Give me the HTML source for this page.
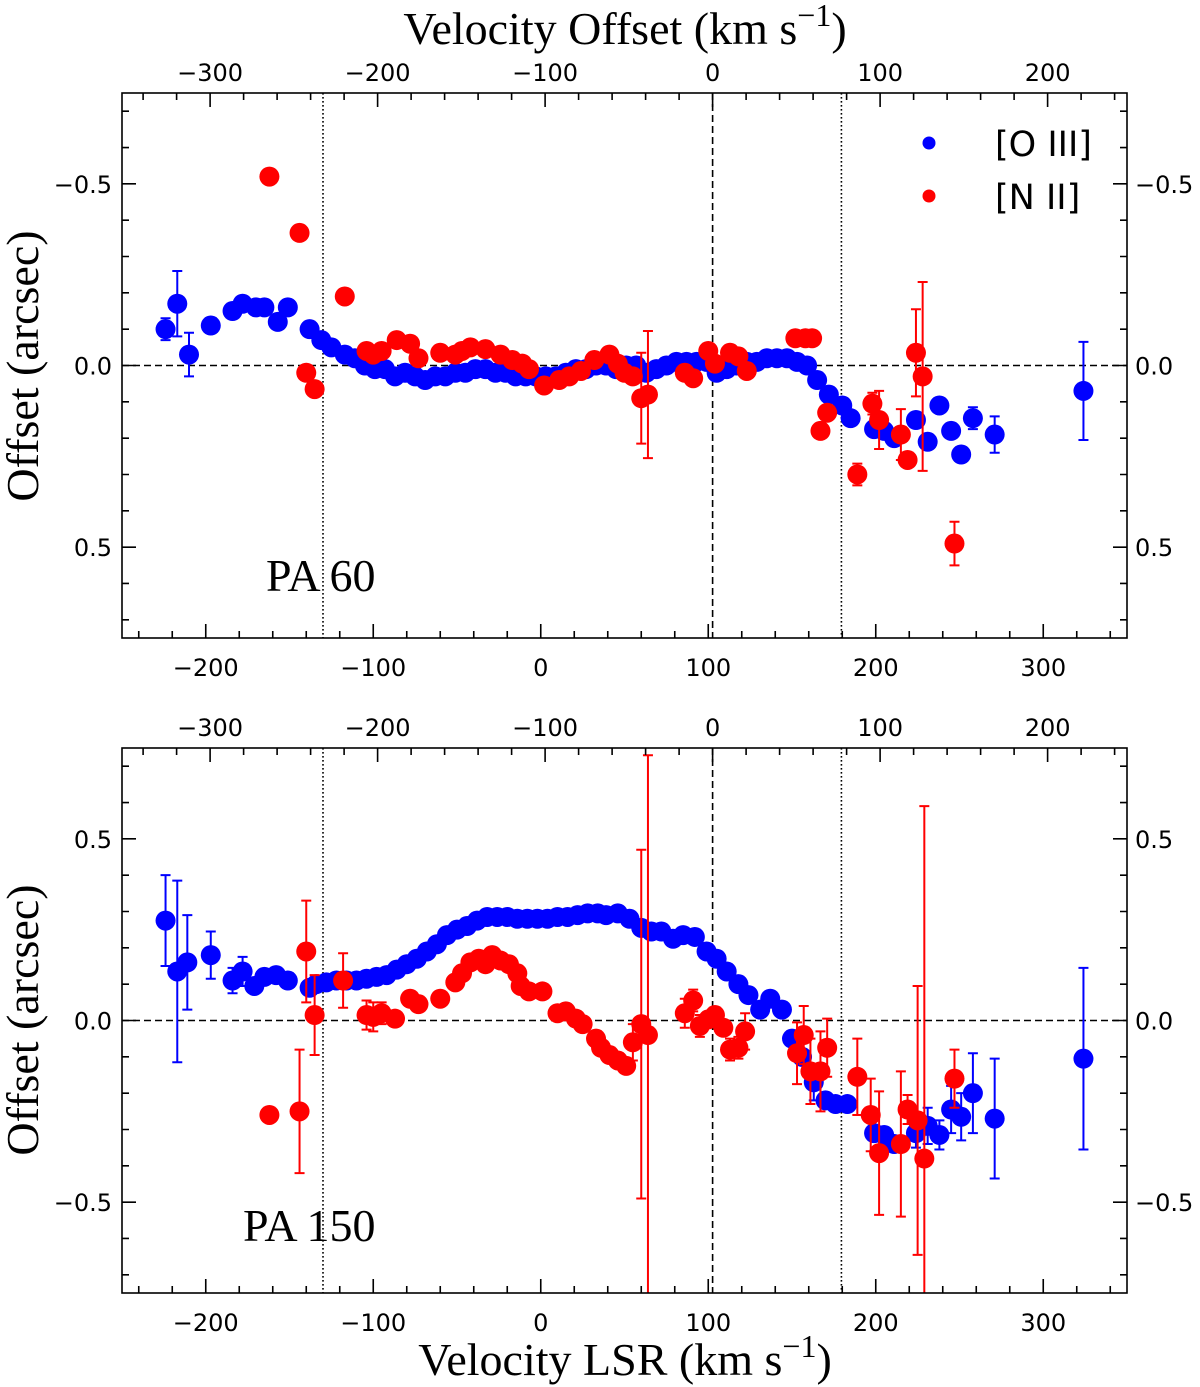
<!DOCTYPE html>
<html><head><meta charset="utf-8">
<style>
html,body{margin:0;padding:0;background:#fff;width:1200px;height:1387px;overflow:hidden;}
svg{display:block;}
.tk{font-family:"DejaVu Sans","Liberation Sans",sans-serif;font-size:24px;fill:#000;}
.ttl{font-family:"Liberation Serif","DejaVu Serif",serif;font-size:46px;fill:#000;}
.lg{font-family:"DejaVu Sans","Liberation Sans",sans-serif;font-size:35px;fill:#000;}
</style></head>
<body>
<svg id="fig" width="1200" height="1387" viewBox="0 0 1200 1387" xmlns="http://www.w3.org/2000/svg">
<g id="p1"></g>
<g id="p2"></g>
<text class="ttl" x="625" y="44" text-anchor="middle">Velocity Offset (km s<tspan dy="-18" font-size="32">−1</tspan><tspan dy="18">)</tspan></text>
<text class="ttl" x="625" y="1375" text-anchor="middle">Velocity LSR (km s<tspan dy="-18" font-size="32">−1</tspan><tspan dy="18">)</tspan></text>
<text class="ttl" transform="translate(38,366) rotate(-90)" text-anchor="middle">Offset (arcsec)</text>
<text class="ttl" transform="translate(38,1020) rotate(-90)" text-anchor="middle">Offset (arcsec)</text>
<text class="ttl" x="266" y="591">PA 60</text>
<text class="ttl" x="243" y="1241">PA 150</text>
<g>
<circle cx="929" cy="143" r="6.5" fill="#0000ff"/>
<text class="lg" x="995" y="156">[O III]</text>
<circle cx="929" cy="196" r="6.5" fill="#ff0000"/>
<text class="lg" x="995" y="209">[N II]</text>
</g>
</svg>
<script>
// ---- shared axis config ----
const xTicksLSR = [-200,-100,0,100,200,300];
const xTicksOffset = [-300,-200,-100,0,100,200];
const offsetShift = 102.6;
const dottedLines = [-130, 179.5];
const yTicksTop = [-0.5,0,0.5];
const yTickLabelsTop = ["−0.5","0.0","0.5"];
const yTicksBot = [-0.5,0,0.5];
const yTickLabelsBot = ["−0.5","0.0","0.5"];

// ---- PA 60 [O III] ----
const p1BlueX = [-224,-217,-210,-197,-184,-178,-170,-165,-157,-151,-138,-131,-125,-117,-111,-105,-99,-93,-87,-81,-75,-69,-63,-57,-51,-45,-39,-33,-27,-21,-15,-9,-3,3,9,15,21,27,33,39,45,51,57,63,69,75,81,87,93,99,105,111,117,123,129,135,141,147,153,159,165,172,180,185,199,205,211,224,231,238,245,251,258,271,324];
const p1BlueY = [-0.10,-0.17,-0.03,-0.11,-0.15,-0.17,-0.16,-0.16,-0.12,-0.16,-0.10,-0.07,-0.05,-0.03,-0.02,0.0,0.01,0.01,0.03,0.02,0.03,0.04,0.03,0.03,0.02,0.02,0.01,0.01,0.02,0.02,0.03,0.03,0.03,0.03,0.03,0.02,0.01,0.01,0.0,0.0,0.01,0.0,0.0,0.02,0.01,0.0,-0.01,-0.01,-0.01,-0.01,0.02,0.01,0.0,-0.01,-0.01,-0.02,-0.02,-0.02,-0.01,0.0,0.04,0.08,0.11,0.145,0.175,0.18,0.20,0.15,0.21,0.11,0.18,0.245,0.145,0.19,0.07];
const p1BlueE = [0.03,0.09,0.06,0,0,0,0,0,0,0,0,0,0,0,0,0,0,0,0,0,0,0,0,0,0,0,0,0,0,0,0,0,0,0,0,0,0,0,0,0,0,0,0,0,0,0,0,0,0,0,0,0,0,0,0,0,0,0,0,0,0,0,0,0,0,0,0.01,0,0,0,0,0,0.03,0.05,0.135];
// ---- PA 60 [N II] ----
const p1RedX = [-162,-144,-117,-140,-135,-104,-100,-95,-86,-78,-73,-60,-51,-47,-42,-33,-24,-17,-11,-7,2,11,17,24,32,41,46,50,55,60,64,86,91,100,104,113,118,123,152,158,162,167,171,189,198,202,215,219,224,228,247];
const p1RedY = [-0.52,-0.365,-0.19,0.02,0.065,-0.04,-0.03,-0.04,-0.07,-0.06,-0.02,-0.035,-0.03,-0.04,-0.05,-0.045,-0.03,-0.015,-0.005,0.01,0.055,0.04,0.03,0.015,-0.015,-0.03,-0.005,0.02,0.03,0.09,0.08,0.02,0.035,-0.04,-0.005,-0.035,-0.025,0.015,-0.075,-0.075,-0.075,0.18,0.13,0.30,0.105,0.15,0.19,0.26,-0.035,0.03,0.49];
const p1RedE = [0,0,0,0.02,0.02,0,0,0,0,0,0,0,0,0,0,0,0,0,0,0,0,0,0,0,0,0,0,0,0,0.125,0.175,0,0,0,0,0,0,0,0.02,0.02,0.02,0,0,0.03,0.03,0.08,0.07,0,0.12,0.26,0.06];

// ---- PA 150 [O III] ----
const p2BlueX = [-224,-217,-211,-197,-184,-178,-171,-165,-158,-151,-138,-134,-128,-122,-116,-110,-104,-98,-92,-86,-80,-74,-68,-62,-56,-50,-44,-38,-32,-26,-20,-14,-8,-2,4,10,16,22,28,34,39,46,53,60,66,72,79,85,92,99,105,111,118,124,131,137,144,150,156,163,170,176,183,199,205,211,224,231,238,245,251,258,271,324];
const p2BlueY = [0.275,0.135,0.16,0.18,0.11,0.135,0.095,0.12,0.125,0.11,0.09,0.10,0.105,0.11,0.11,0.11,0.115,0.12,0.125,0.14,0.155,0.17,0.19,0.21,0.235,0.25,0.26,0.275,0.285,0.285,0.285,0.28,0.28,0.28,0.28,0.285,0.285,0.29,0.295,0.295,0.29,0.295,0.28,0.255,0.245,0.245,0.225,0.235,0.23,0.19,0.17,0.135,0.10,0.07,0.03,0.06,0.03,-0.05,-0.10,-0.17,-0.22,-0.23,-0.23,-0.31,-0.315,-0.34,-0.31,-0.29,-0.315,-0.245,-0.265,-0.20,-0.27,-0.105];
const p2BlueE = [0.125,0.25,0.13,0.065,0.035,0.04,0,0,0,0,0,0,0,0,0,0,0,0,0,0,0,0,0,0,0,0,0,0,0,0,0,0,0,0,0,0,0,0,0,0,0,0,0,0,0,0,0,0,0,0,0,0,0,0,0,0,0,0,0.02,0.05,0,0,0,0,0,0.02,0.04,0.05,0.04,0.065,0.065,0.11,0.165,0.25];
// ---- PA 150 [N II] ----
const p2RedX = [-162,-144,-140,-135,-118,-104,-100,-95,-87,-78,-73,-60,-51,-47,-42,-37,-33,-29,-24,-19,-14,-12,-7,1,10,15,21,25,33,36,41,46,51,55,60,64,86,91,95,100,104,109,113,118,122,153,157,161,167,171,189,197,202,215,219,225,229,247];
const p2RedY = [-0.26,-0.25,0.19,0.015,0.11,0.015,0.01,0.02,0.005,0.06,0.045,0.06,0.105,0.13,0.16,0.17,0.155,0.18,0.165,0.155,0.13,0.095,0.08,0.08,0.02,0.025,0.005,-0.01,-0.05,-0.075,-0.095,-0.11,-0.125,-0.06,-0.01,-0.04,0.02,0.055,-0.015,0.003,0.015,-0.02,-0.08,-0.075,-0.03,-0.09,-0.04,-0.14,-0.14,-0.075,-0.155,-0.26,-0.365,-0.34,-0.245,-0.275,-0.38,-0.16];
const p2RedE = [0,0.17,0.14,0.11,0.075,0.04,0.04,0.03,0,0,0,0,0,0,0,0,0,0,0,0,0,0,0,0,0,0,0,0,0,0,0,0,0,0.05,0.48,0.77,0.04,0.03,0.03,0,0,0,0.03,0.03,0.05,0.085,0.08,0.09,0.11,0.08,0.105,0.10,0.17,0.2,0.04,0.37,0.97,0.08];

const NS = "http://www.w3.org/2000/svg";
const L = 122, R = 1127;
function xs(v){ return L + (v + 250) / 600 * (R - L); }
function mk(tag, attrs, parent){ const e = document.createElementNS(NS, tag); for (const k in attrs) e.setAttribute(k, attrs[k]); parent.appendChild(e); return e; }

function panel(g, top, bot, yFn, yTicks, yLabels, bx, by, be, rx, ry, re){
  const clipId = "c" + top;
  const defs = mk("defs", {}, g);
  const cp = mk("clipPath", {id: clipId}, defs);
  mk("rect", {x: L, y: top, width: R - L, height: bot - top}, cp);
  const plot = mk("g", {"clip-path": "url(#" + clipId + ")"}, g);
  
  
  const z = mk("line", {x1: L, x2: R, y1: yFn(0), y2: yFn(0), stroke: "#000", "stroke-width": 1.6, "stroke-dasharray": "7,4"}, plot);
  
  
  const vz = mk("line", {x1: xs(offsetShift), x2: xs(offsetShift), y1: top, y2: bot, stroke: "#000", "stroke-width": 1.6, "stroke-dasharray": "7,4"}, plot);
  
  
  dottedLines.forEach(function(v){
    const d = mk("line", {x1: xs(v), x2: xs(v), y1: top, y2: bot, stroke: "#000", "stroke-width": 1.6, "stroke-dasharray": "1.6,2.4"}, plot);
    
    
  });
  function series(X, Y, E, col, name){
    const sg = mk("g", {}, plot);
    
    
    for (let i = 0; i < X.length; i++){
      const cx = xs(X[i]);
      if (E[i] > 0){
        const y1 = yFn(Y[i] - E[i]), y2 = yFn(Y[i] + E[i]);
        const eb = mk("path", {d: "M" + cx + "," + y1 + "V" + y2 + "M" + (cx - 5) + "," + y1 + "h10M" + (cx - 5) + "," + y2 + "h10", stroke: col, "stroke-width": 2, fill: "none"}, sg);
        
        
      }
    }
    for (let i = 0; i < X.length; i++){
      const c = mk("circle", {cx: xs(X[i]), cy: yFn(Y[i]), r: 10, fill: col}, sg);
      
      
    }
  }
  series(bx, by, be, "#0000ff", "oiii-series");
  series(rx, ry, re, "#ff0000", "nii-series");
  const fr = mk("rect", {x: L, y: top, width: R - L, height: bot - top, fill: "none", stroke: "#000", "stroke-width": 1.6}, g);
  
  
  let d = "";
  for (let v = -240; v <= 340; v += 20){
    const x = xs(v), len = (v % 100 === 0) ? 14 : 7;
    d += "M" + x + "," + bot + "v" + (-len);
  }
  for (let v = -340; v <= 240; v += 20){
    const x = xs(v + offsetShift); if (x < L || x > R) continue;
    const len = (v % 100 === 0) ? 14 : 7;
    d += "M" + x + "," + top + "v" + len;
  }
  for (let k = -7; k <= 7; k++){
    const v = k / 10, y = yFn(v), len = (k % 5 === 0) ? 14 : 7;
    d += "M" + L + "," + y + "h" + len + "M" + R + "," + y + "h" + (-len);
  }
  const tp = mk("path", {d: d, stroke: "#000", "stroke-width": 1.6, fill: "none"}, g);
  
  
  xTicksLSR.forEach(function(v){
    const t = mk("text", {x: xs(v), y: bot + 38, "text-anchor": "middle", class: "tk"}, g);
    t.textContent = v < 0 ? "−" + Math.abs(v) : String(v);
    
    
  });
  xTicksOffset.forEach(function(v){
    const t = mk("text", {x: xs(v + offsetShift), y: top - 12, "text-anchor": "middle", class: "tk"}, g);
    t.textContent = v < 0 ? "−" + Math.abs(v) : String(v);
    
    
  });
  yTicks.forEach(function(v, i){
    const t1 = mk("text", {x: L - 10, y: yFn(v) + 9, "text-anchor": "end", class: "tk"}, g);
    t1.textContent = yLabels[i];
    
    
    const t2 = mk("text", {x: R + 8, y: yFn(v) + 9, "text-anchor": "start", class: "tk"}, g);
    t2.textContent = yLabels[i];
    
    
  });
}
function yT(v){ return 365.5 + v * 363.3; }
function yB(v){ return 1020.5 - v * 363.3; }
panel(document.getElementById("p1"), 93, 638, yT, yTicksTop, yTickLabelsTop, p1BlueX, p1BlueY, p1BlueE, p1RedX, p1RedY, p1RedE);
panel(document.getElementById("p2"), 748, 1293, yB, yTicksBot, yTickLabelsBot, p2BlueX, p2BlueY, p2BlueE, p2RedX, p2RedY, p2RedE);
</script>
</body></html>
